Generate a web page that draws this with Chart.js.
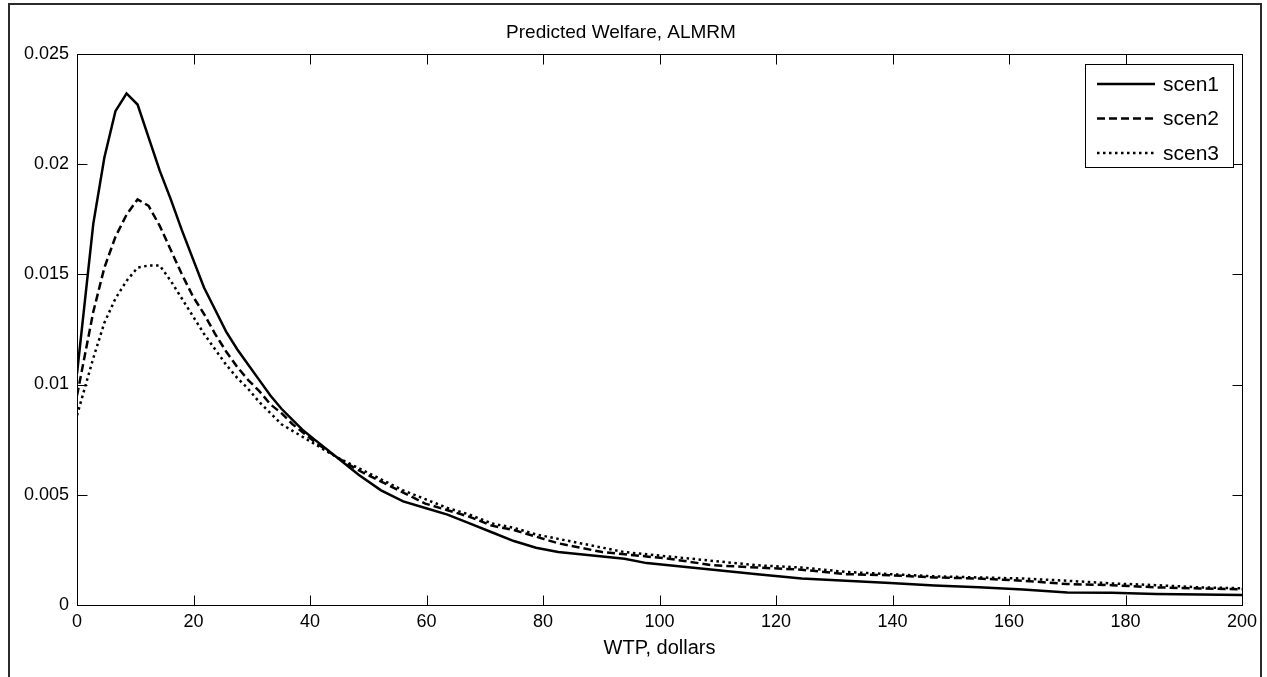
<!DOCTYPE html>
<html><head><meta charset="utf-8">
<script src="https://cdn.jsdelivr.net/npm/chart.js@4.4.1/dist/chart.umd.min.js"></script>
<style>html,body{margin:0;padding:0;background:#fff;overflow:hidden}#wrap{width:1267px;height:677px}</style>
</head><body><div id="wrap"><canvas id="c" width="1267" height="677"></canvas></div>
<script>
const chartTitle = 'Predicted Welfare, ALMRM';
const xAxisTitle = 'WTP, dollars';
const seriesNames = ['scen1', 'scen2', 'scen3'];
const wtp = [0, 2.8, 4.7, 6.6, 8.5, 10.4, 12.3, 14.2, 16.1, 18, 19.9, 21.8, 23.7, 25.6, 27.5, 29.4, 31.3, 33.2, 35.1, 37, 38.9, 40.8, 44.6, 48.4, 52.2, 56, 59.8, 63.6, 67.4, 71.2, 75, 78.8, 82.6, 86.4, 90.2, 94, 97.8, 101.6, 109.2, 116.8, 124.4, 132, 139.6, 147.2, 154.8, 162.4, 170, 177.6, 185.2, 192.8, 200];
const scen1 = [0.0105, 0.0173, 0.0203, 0.0224, 0.0232, 0.0227, 0.0212, 0.0197, 0.0184, 0.0170, 0.0157, 0.0144, 0.0134, 0.0124, 0.0116, 0.0109, 0.0102, 0.0095, 0.0089, 0.0084, 0.0079, 0.0075, 0.0067, 0.0059, 0.0052, 0.0047, 0.0044, 0.0041, 0.0037, 0.0033, 0.0029, 0.0026, 0.0024, 0.0023, 0.0022, 0.0021, 0.0019, 0.0018, 0.0016, 0.0014, 0.0012, 0.0011, 0.0010, 0.00088, 0.0008, 0.0007, 0.00057, 0.00055, 0.0005, 0.00048, 0.00045];
const scen2 = [0.0095, 0.0133, 0.0153, 0.0167, 0.0177, 0.0184, 0.0181, 0.0172, 0.0161, 0.0150, 0.0140, 0.0132, 0.0123, 0.0115, 0.0108, 0.0102, 0.0097, 0.0091, 0.0087, 0.0082, 0.0078, 0.0074, 0.0067, 0.0061, 0.0056, 0.0051, 0.0046, 0.0043, 0.0040, 0.0036, 0.0034, 0.0031, 0.0028, 0.0026, 0.0024, 0.0023, 0.0022, 0.0021, 0.0018, 0.0017, 0.0016, 0.0014, 0.00135, 0.00125, 0.0012, 0.0011, 0.00095, 0.0009, 0.0008, 0.00075, 0.00071];
const scen3 = [0.0086, 0.0112, 0.0128, 0.0139, 0.0147, 0.0153, 0.0154, 0.0154, 0.0147, 0.0139, 0.0131, 0.0123, 0.0116, 0.0109, 0.0103, 0.0098, 0.0092, 0.0087, 0.0082, 0.0079, 0.0076, 0.0073, 0.0067, 0.0062, 0.0057, 0.0052, 0.0048, 0.0044, 0.0041, 0.0037, 0.0035, 0.0032, 0.0030, 0.0028, 0.0026, 0.0024, 0.0023, 0.0022, 0.0020, 0.0018, 0.0017, 0.0015, 0.0014, 0.0013, 0.00125, 0.0012, 0.0011, 0.00098, 0.0009, 0.0008, 0.00076];
const xTickValues = [0, 20, 40, 60, 80, 100, 120, 140, 160, 180, 200];
const xTickLabels = ['0', '20', '40', '60', '80', '100', '120', '140', '160', '180', '200'];
const yTickValues = [0, 0.005, 0.01, 0.015, 0.02, 0.025];
const yTickLabels = ['0', '0.005', '0.01', '0.015', '0.02', '0.025'];

Chart.defaults.font.family = "'Liberation Sans', Arial, Helvetica, sans-serif";
Chart.defaults.color = '#000';

const toPts = ys => wtp.map((x, i) => ({x: x, y: ys[i]}));

const frame = {
  id: 'frame',
  beforeDraw(chart) {
    const ctx = chart.ctx;
    ctx.save();
    ctx.fillStyle = '#fff';
    ctx.fillRect(0, 0, chart.width, chart.height);
    ctx.strokeStyle = '#2b2b2b';
    ctx.lineWidth = 2;
    ctx.strokeRect(9, 4, 1252, 740);
    ctx.restore();
  },
  afterDatasetsDraw(chart) {
    const {ctx, chartArea: a, scales: {x, y}} = chart;
    const L = Math.round(a.left) + 0.5, R = Math.round(a.right) + 0.5;
    const T = Math.round(a.top) + 0.5, B = Math.round(a.bottom) + 0.5;
    const tl = 10;
    ctx.save();
    ctx.strokeStyle = '#000';
    ctx.lineWidth = 1;
    ctx.setLineDash([]);
    ctx.beginPath();
    xTickValues.forEach(v => {
      const px = Math.round(x.getPixelForValue(v)) + 0.5;
      ctx.moveTo(px, B); ctx.lineTo(px, B - tl);
      ctx.moveTo(px, T); ctx.lineTo(px, T + tl);
    });
    yTickValues.forEach(v => {
      const py = Math.round(y.getPixelForValue(v)) + 0.5;
      ctx.moveTo(L, py); ctx.lineTo(L + tl, py);
      ctx.moveTo(R, py); ctx.lineTo(R - tl, py);
    });
    ctx.stroke();
    ctx.strokeRect(L, T, R - L, B - T);
    ctx.restore();
  },
  afterDraw(chart) {
    const {ctx, chartArea: a} = chart;
    const bw = 148, bh = 103;
    const bx = Math.round(a.right) - 9 - bw, by = Math.round(a.top) + 10;
    ctx.save();
    ctx.fillStyle = '#fff';
    ctx.fillRect(bx, by, bw, bh);
    ctx.strokeStyle = '#000';
    ctx.lineWidth = 1;
    ctx.strokeRect(bx + 0.5, by + 0.5, bw, bh);
    chart.data.datasets.forEach((ds, i) => {
      const yy = by + 20 + i * 34.5;
      ctx.setLineDash(ds.borderDash || []);
      ctx.lineWidth = ds.borderWidth;
      ctx.strokeStyle = ds.borderColor;
      ctx.lineCap = 'butt';
      ctx.beginPath();
      ctx.moveTo(bx + 12, yy);
      ctx.lineTo(bx + 70, yy);
      ctx.stroke();
      ctx.setLineDash([]);
      ctx.fillStyle = '#000';
      ctx.font = "21px 'Liberation Sans', Arial, sans-serif";
      ctx.textBaseline = 'middle';
      ctx.textAlign = 'left';
      ctx.fillText(ds.label, bx + 78, yy + 1);
    });
    ctx.restore();
  }
};

new Chart(document.getElementById('c'), {
  type: 'line',
  data: {
    datasets: [
      {label: seriesNames[0], data: toPts(scen1), borderColor: '#000', borderWidth: 2.5, borderDash: [], pointRadius: 0, tension: 0, fill: false},
      {label: seriesNames[1], data: toPts(scen2), borderColor: '#000', borderWidth: 2.5, borderDash: [8, 4], pointRadius: 0, tension: 0, fill: false},
      {label: seriesNames[2], data: toPts(scen3), borderColor: '#000', borderWidth: 2.5, borderDash: [2.5, 3.5], pointRadius: 0, tension: 0, fill: false}
    ]
  },
  options: {
    responsive: false,
    animation: false,
    devicePixelRatio: 1,
    layout: {padding: {top: 0, right: 25, bottom: 0, left: 0}},
    plugins: {
      legend: {display: false},
      tooltip: {enabled: false},
      title: {display: true, text: chartTitle, font: {size: 19, weight: 'normal'}, color: '#000', padding: {top: 21, bottom: 10}}
    },
    scales: {
      x: {
        type: 'linear', min: 0, max: 200, position: 'bottom',
        grid: {display: false, drawTicks: false, tickLength: 0},
        border: {display: false},
        afterBuildTicks: s => { s.ticks = xTickValues.map(v => ({value: v})); },
        afterFit: s => { s.height = 72; },
        ticks: {autoSkip: false, maxRotation: 0, padding: 6, font: {size: 18}, color: '#000',
          callback: v => xTickLabels[xTickValues.indexOf(v)]},
        title: {display: true, text: xAxisTitle, font: {size: 20}, color: '#000', padding: {top: 0, bottom: 17}}
      },
      y: {
        type: 'linear', min: 0, max: 0.025,
        grid: {display: false, drawTicks: false, tickLength: 0},
        border: {display: false},
        afterBuildTicks: s => { s.ticks = yTickValues.map(v => ({value: v})); },
        afterFit: s => { s.width = 77; },
        ticks: {autoSkip: false, padding: 8, font: {size: 18}, color: '#000',
          callback: v => yTickLabels[yTickValues.findIndex(t => Math.abs(t - v) < 1e-9)]}
      }
    }
  },
  plugins: [frame]
});
</script></body></html>
